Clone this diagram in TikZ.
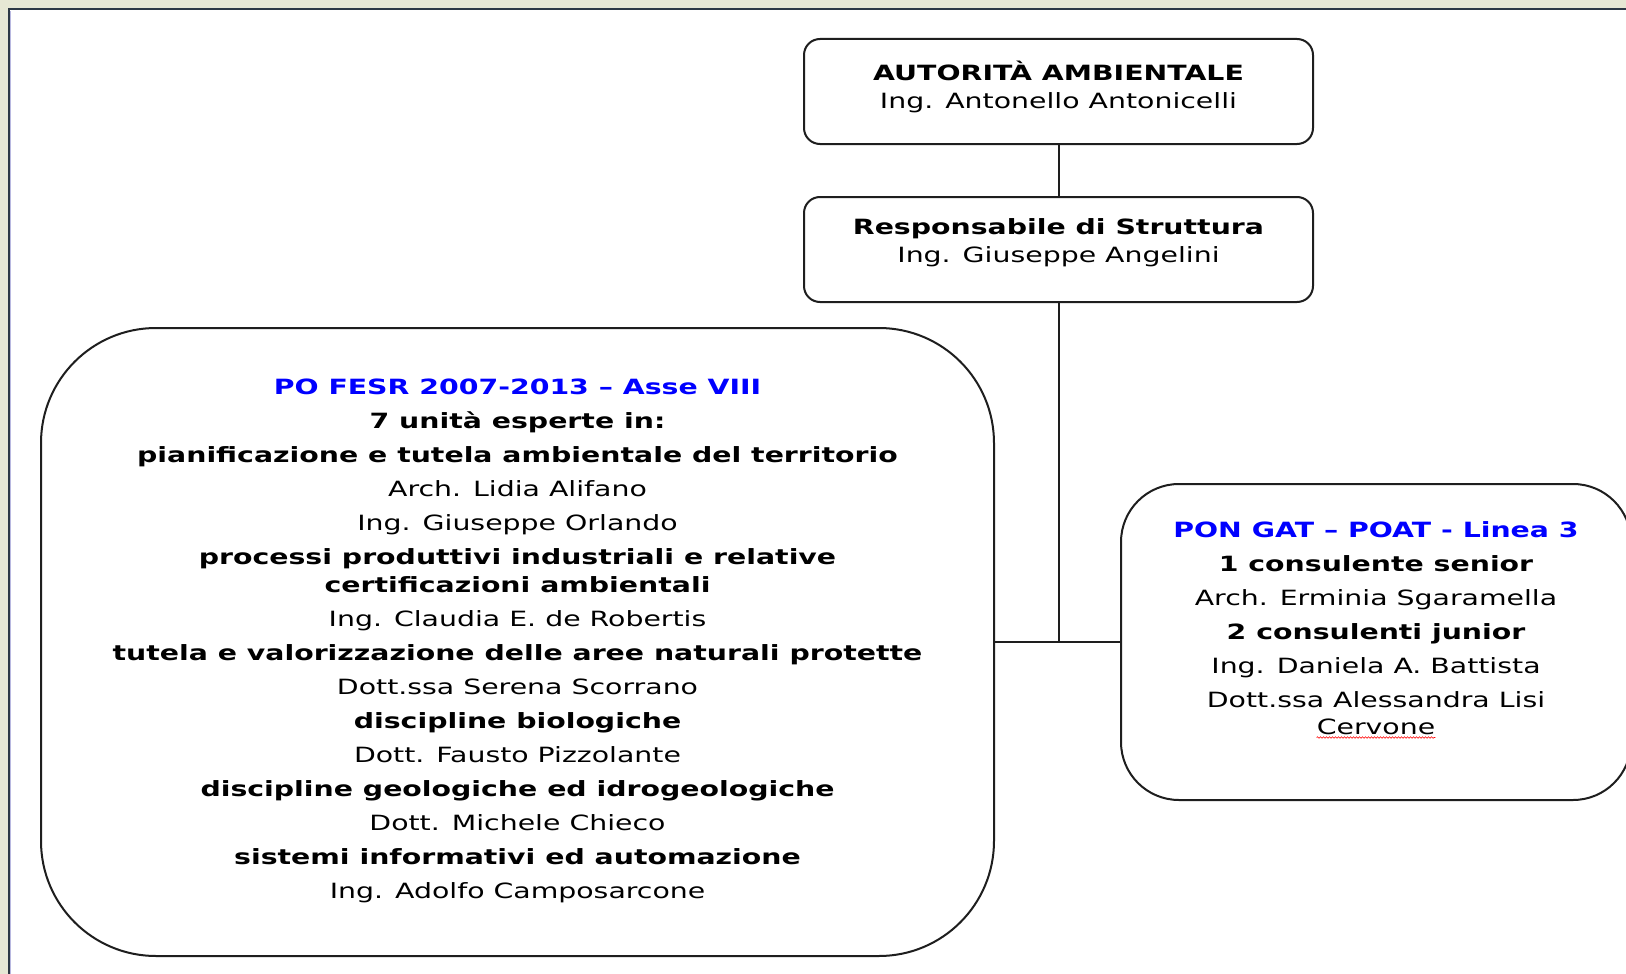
\documentclass[tikz,border=0pt]{standalone}
\usepackage{fontspec}
\setmainfont{DejaVu Sans}[FakeStretch=1.35]
\usetikzlibrary{decorations.pathmorphing}
\definecolor{bgbeige}{RGB}{230,232,212}
\definecolor{panelline}{RGB}{44,56,68}
\definecolor{boxline}{RGB}{30,30,30}
\definecolor{hdblue}{RGB}{0,0,255}
\begin{document}
\begin{tikzpicture}[x=1pt,y=-1pt,
  box/.style={draw=boxline, line width=2pt, fill=white, inner sep=0pt},
  txt/.style={align=center, inner sep=0pt, text=black, font=\fontsize{21}{28}\selectfont},
  link/.style={draw=boxline, line width=2pt},
  hd/.style={text=hdblue}]
\useasboundingbox (0,0) rectangle (1626,974);
\clip (0,0) rectangle (1626,974);
% background and panel
\fill[bgbeige] (0,0) rectangle (1626,974);
\fill[white] (9,10) rectangle (1626,974);
\draw[panelline, line width=2pt] (8.5,974) -- (8.5,9.5) -- (1626,9.5);
\draw[gray!60!blue!40, line width=1pt] (10,974) -- (10,11);
% boxes
\node[box, minimum width=509pt, minimum height=105pt, rounded corners=16pt] (aut) at (1058.5,91.5) {};
\node[box, minimum width=509pt, minimum height=105pt, rounded corners=16pt] (resp) at (1058.5,249.5) {};
\node[box, minimum width=953pt, minimum height=628pt, rounded corners=115pt] (fesr) at (517.5,642) {};
\node[box, minimum width=510pt, minimum height=316pt, rounded corners=58pt] (pon) at (1376,642) {};
% connectors
\coordinate (j) at (resp.south |- fesr.east);
\draw[link] (aut.south) -- (resp.north);
\draw[link] (resp.south) -- (j);
\draw[link] (fesr.east) -- (pon.west);
% texts
\node[txt] (auttxt) at (1058.5,86.5) {\textbf{AUTORITÀ AMBIENTALE}\\Ing. Antonello Antonicelli};
\node[txt] (resptxt) at (1058.5,243) {\textbf{Responsabile di Struttura}\\Ing. Giuseppe Angelini};
\node[txt] (fesrtxt) at (517.5,641) {%
{\color{hdblue}\textbf{PO FESR 2007-2013 – Asse VIII}}\\[6pt]
\textbf{7 unità esperte in:}\\[6pt]
\textbf{pianificazione e tutela ambientale del territorio}\\[6pt]
Arch. Lidia Alifano\\[6pt]
Ing. Giuseppe Orlando\\[6pt]
\textbf{processi produttivi industriali e relative}\\
\textbf{certificazioni ambientali}\\[6pt]
Ing. Claudia E. de Robertis\\[6pt]
\textbf{tutela e valorizzazione delle aree naturali protette}\\[6pt]
Dott.ssa Serena Scorrano\\[6pt]
\textbf{discipline biologiche}\\[6pt]
Dott. Fausto Pizzolante\\[6pt]
\textbf{discipline geologiche ed idrogeologiche}\\[6pt]
Dott. Michele Chieco\\[6pt]
\textbf{sistemi informativi ed automazione}\\[6pt]
Ing. Adolfo Camposarcone};
\node[txt] (pontxt) at (1376,615) {%
{\color{hdblue}\textbf{PON GAT – POAT - Linea 3}}\\[6pt]
\textbf{1 consulente senior}\\[6pt]
Arch. Erminia Sgaramella\\[6pt]
\textbf{2 consulenti junior}\\[6pt]
Ing. Daniela A. Battista\\[6pt]
Dott.ssa Alessandra Lisi};
\node[txt, anchor=base] (cerv) at (1376,734) {Cervone};
\draw[red, line width=0.6pt, decorate, decoration={snake, segment length=3pt, amplitude=0.8pt}]
  ([yshift=-3pt]cerv.south west) -- ([yshift=-3pt]cerv.south east);
\end{tikzpicture}
\end{document}
